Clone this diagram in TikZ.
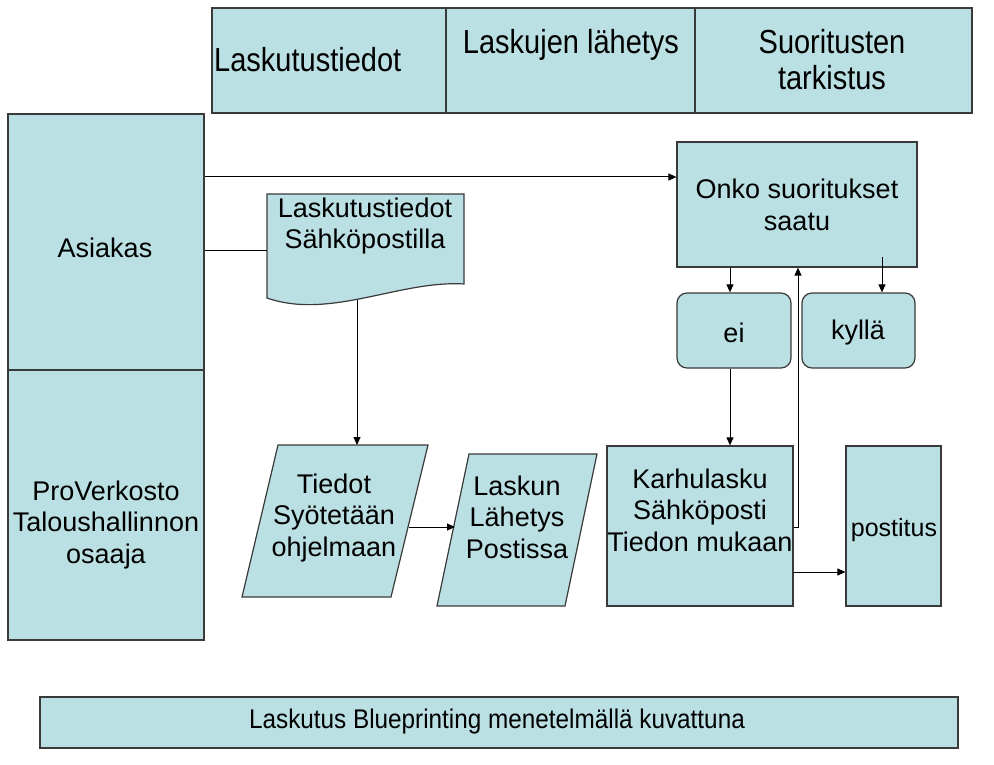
\documentclass[tikz,border=0pt]{standalone}
\usepackage{fontspec}
\setmainfont{Liberation Sans}
\usetikzlibrary{arrows.meta}
\definecolor{boxfill}{HTML}{BBE0E3}
\definecolor{edge}{HTML}{3A3A3A}
% header text is set slightly taller than the body text
\newcommand{\tallhead}[1]{\scalebox{1}[1.15]{#1}}
% narrow setting for the banner line
\newcommand{\narrowtext}[2]{\scalebox{#1}[1]{#2}}
\begin{document}
\begin{tikzpicture}[x=1pt,y=-1pt,
  every node/.style={font=\fontsize{27}{31.5}\selectfont, inner sep=0pt, text=black},
  headfont/.style={font=\fontsize{29}{33}\selectfont},
  box/.style={draw=edge, fill=boxfill, line width=1.2pt, rectangle},
  flowshape/.style={draw=edge, fill=boxfill, line width=1.2pt},
  caption/.style={align=center},
  link/.style={line width=1pt, draw=black},
  arrowlink/.style={link, -{Triangle[length=8pt,width=7pt]}}
]
\useasboundingbox (0,0) rectangle (994,765);

% phase header row
\node[box, minimum width=234, minimum height=105] (phaseA) at (329,60.5) {};
\node[box, minimum width=249, minimum height=105] (phaseB) at (570.5,60.5) {};
\node[box, minimum width=277, minimum height=105] (phaseC) at (833.5,60.5) {};
\node[headfont, anchor=west] (phaseAtext) at (214,60) {\tallhead{Laskutustiedot}};
\node[headfont] (phaseBtext) at (571,45) {\tallhead{Laskujen lähetys}};
\node[headfont] (phaseCtext) at (832,64)
  {\tallhead{\begin{tabular}{@{}c@{}}Suoritusten\\[-1pt]tarkistus\end{tabular}}};

% swimlanes
\node[box, minimum width=196, minimum height=256] (asiakas) at (106,242) {};
\node[box, minimum width=196, minimum height=270] (pro) at (106,505) {};
\node (asiakasText) at (105,248) {Asiakas};
\node[caption] (proText) at (106,525) {ProVerkosto\\Taloushallinnon\\osaaja};

% document shape
\draw[flowshape] (267,194) -- (464,194) -- (464,284)
  .. controls (400,280) and (330,320) .. (267,298) -- cycle;
\node[caption] (docText) at (365,226) {Laskutustiedot\\Sähköpostilla};

% input/output parallelograms
\draw[flowshape] (278,445) -- (428,445) -- (391,597) -- (242,597) -- cycle;
\node[caption] (entryText) at (334,518) {Tiedot\\Syötetään\\ohjelmaan};
\draw[flowshape] (469,454) -- (597,454) -- (565,606) -- (437,606) -- cycle;
\node[caption] (sendText) at (517,517) {Laskun\\Lähetys\\Postissa};

% process boxes
\node[box, minimum width=186, minimum height=160] (karhu) at (700,526) {};
\node[caption] (karhuText) at (700,510) {Karhulasku\\Sähköposti\\Tiedon mukaan};
\node[box, minimum width=95, minimum height=160] (postitus) at (893.5,526) {};
\node[font=\fontsize{25}{30}\selectfont] (postitusText) at (894,530) {postitus};
\node[box, minimum width=240, minimum height=125] (onko) at (797,204.5) {};
\node[caption] (onkoText) at (797,205) {Onko suoritukset\\saatu};
\node[box, rounded corners=10pt, minimum width=114, minimum height=75] (ei) at (734,330.5) {};
\node (eiText) at (734,333) {ei};
\node[box, rounded corners=10pt, minimum width=113, minimum height=75] (kylla) at (858.5,330.5) {};
\node (kyllaText) at (858,333) {kyllä};

% title banner
\node[box, minimum width=918, minimum height=51] (banner) at (499,722.5) {};
\node (bannerText) at (497,722)
  {\narrowtext{0.9}{Laskutus Blueprinting menetelmällä kuvattuna}};

% connector anchor points
\coordinate (mailY) at (0,177);
\coordinate (docIn) at (267,250);
\coordinate (docOut) at (357,300);
\coordinate (entryTop) at (357,445);
\coordinate (entryRight) at (409,527);
\coordinate (sendLeft) at (455,527);
\coordinate (noX) at (730,0);
\coordinate (yesStart) at (882,257);
\coordinate (backY) at (0,527);
\coordinate (backX) at (798,0);
\coordinate (postY) at (0,572);

% connectors
\draw[arrowlink] (asiakas.east |- mailY) -- (onko.west |- mailY);
\draw[link] (asiakas.east |- docIn) -- (docIn);
\draw[arrowlink] (docOut) -- (entryTop);
\draw[arrowlink] (entryRight) -- (sendLeft);
\draw[arrowlink] (onko.south -| noX) -- (ei.north -| noX);
\draw[arrowlink] (yesStart) -- (yesStart |- kylla.north);
\draw[arrowlink] (ei.south -| noX) -- (karhu.north -| noX);
\draw[arrowlink] (karhu.east |- backY) -| (backX |- onko.south);
\draw[arrowlink] (karhu.east |- postY) -- (postitus.west |- postY);
\end{tikzpicture}
\end{document}
